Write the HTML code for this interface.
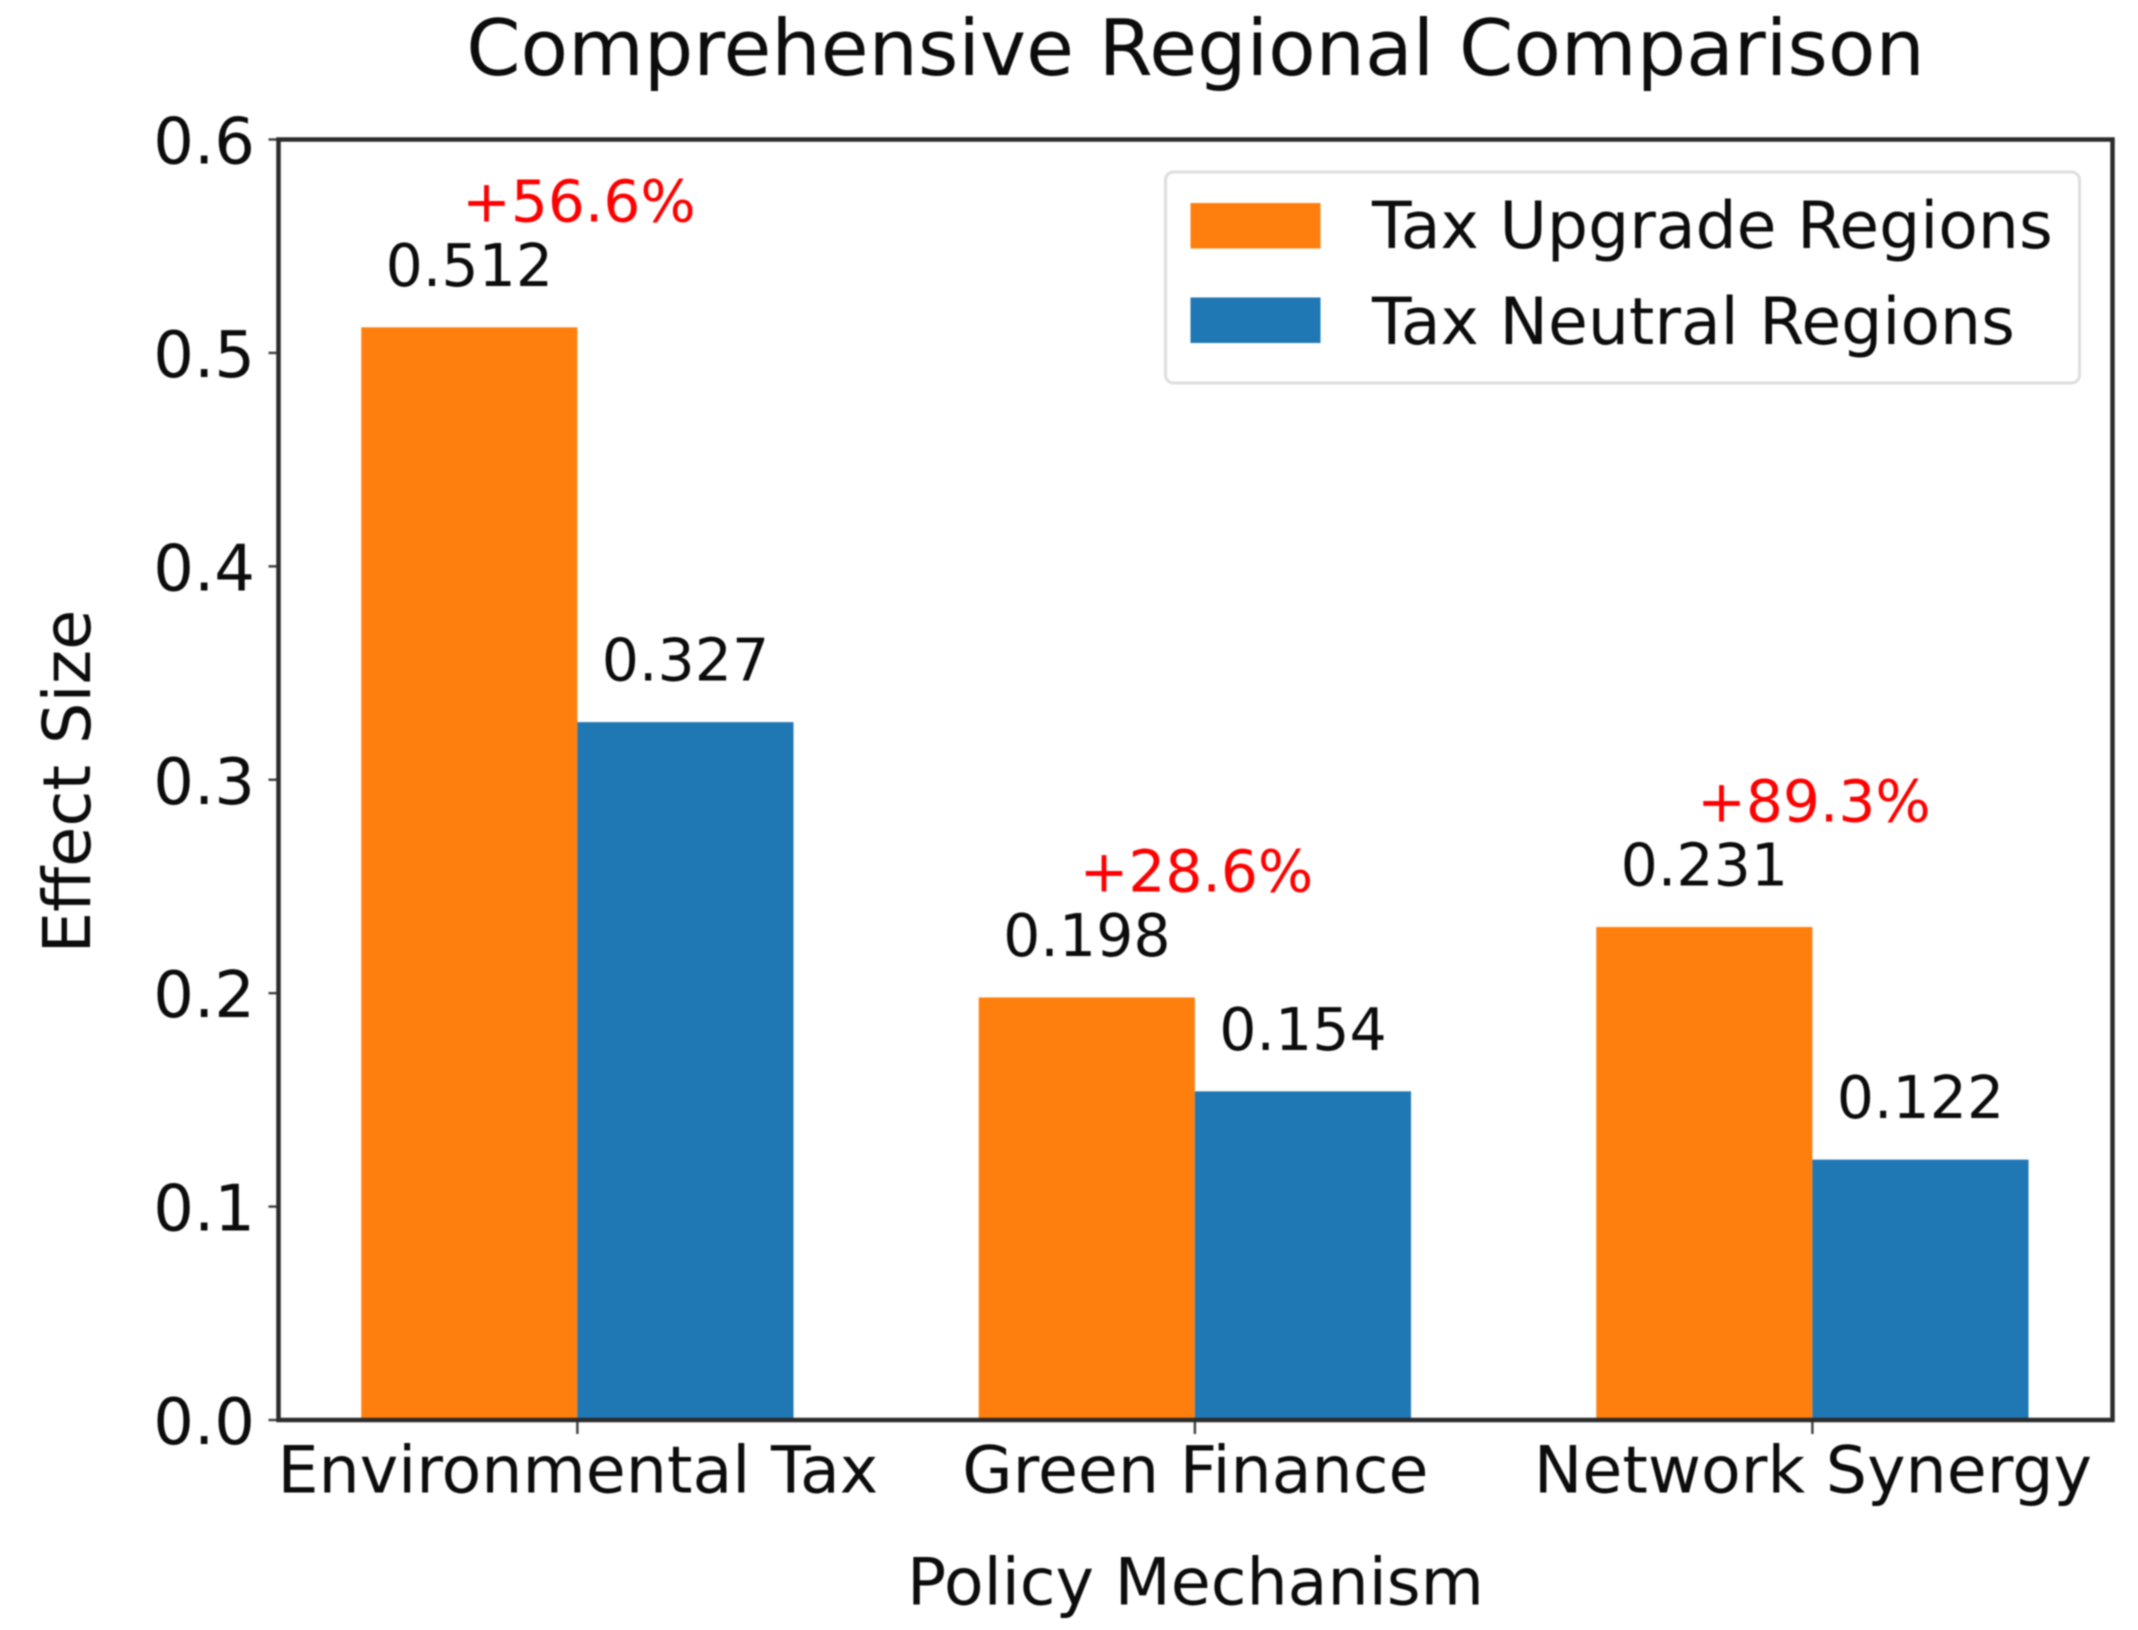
<!DOCTYPE html>
<html lang="en">
<head>
<meta charset="utf-8">
<title>Comprehensive Regional Comparison</title>
<style>
html,body{margin:0;padding:0;background:#fff;}
svg{display:block;filter:blur(0.8px);}
text{font-family:"DejaVu Sans","Liberation Sans",sans-serif;fill:#0c0c0c;}
</style>
</head>
<body>
<svg id="chart" xmlns="http://www.w3.org/2000/svg" width="2138" height="1630" viewBox="0 0 2138 1630"></svg>
<script>
const categories = ["Environmental Tax", "Green Finance", "Network Synergy"];
const upgradeValues = [0.512, 0.198, 0.231];
const neutralValues = [0.327, 0.154, 0.122];
const percentLabels = ["+56.6%", "+28.6%", "+89.3%"];
const yTicks = [0, 0.1, 0.2, 0.3, 0.4, 0.5, 0.6];
const seriesNames = ["Tax Upgrade Regions", "Tax Neutral Regions"];

const NS = "http://www.w3.org/2000/svg";
const svg = document.getElementById("chart");
const plot = {left: 278.5, right: 2112.5, top: 139.5, bottom: 1420};
const xDomain = [-0.484, 2.486];
const yDomain = [0, 0.6];
const barWidth = 0.35;
const ORANGE = "#ff7f0e";
const BLUE = "#1f77b4";

function xScale(v) {
  return plot.left + (v - xDomain[0]) / (xDomain[1] - xDomain[0]) * (plot.right - plot.left);
}
function yScale(v) {
  return plot.bottom - (v - yDomain[0]) / (yDomain[1] - yDomain[0]) * (plot.bottom - plot.top);
}
function make(tag, attrs, text) {
  const el = document.createElementNS(NS, tag);
  for (const k in attrs) el.setAttribute(k, attrs[k]);
  if (text !== undefined) el.textContent = text;
  svg.appendChild(el);
  return el;
}

// Bars and their labels
categories.forEach(function (cat, i) {
  const upX0 = xScale(i - barWidth);
  const midX = xScale(i);
  const neuX1 = xScale(i + barWidth);
  const upTop = yScale(upgradeValues[i]);
  const neuTop = yScale(neutralValues[i]);

  const barA = make("rect", {x: upX0, y: upTop, width: midX - upX0, height: plot.bottom - upTop, fill: ORANGE});
  
  

  const barB = make("rect", {x: midX, y: neuTop, width: neuX1 - midX, height: plot.bottom - neuTop, fill: BLUE});
  
  

  const labA = make("text", {x: (upX0 + midX) / 2, y: upTop - 41.5, "text-anchor": "middle", "font-size": 58.5}, upgradeValues[i].toFixed(3));
  
  

  const labB = make("text", {x: (midX + neuX1) / 2, y: neuTop - 41.5, "text-anchor": "middle", "font-size": 58.5}, neutralValues[i].toFixed(3));
  
  

  const pct = make("text", {x: midX + 1.5, y: yScale(Math.max(upgradeValues[i], neutralValues[i]) + 0.05) + 1, "text-anchor": "middle", "font-size": 58.2, style: "fill:#ff0000"}, percentLabels[i]);
  
  

  const tick = make("line", {x1: midX, x2: midX, y1: plot.bottom, y2: plot.bottom + 14, stroke: "#444", "stroke-width": 2.5});
  
  

  const tickLabel = make("text", {x: midX + 0.5, y: 1492.5, "text-anchor": "middle", "font-size": 65}, cat);
  
  
});

// Y axis ticks
yTicks.forEach(function (t) {
  const y = yScale(t);
  const tick = make("line", {x1: plot.left - 10, x2: plot.left, y1: y, y2: y, stroke: "#444", "stroke-width": 2.5});
  
  

  const label = make("text", {x: 255, y: y + 24, "text-anchor": "end", "font-size": 64}, t.toFixed(1));
  
  
});

// Plot frame
const frame = make("rect", {x: plot.left, y: plot.top, width: plot.right - plot.left, height: plot.bottom - plot.top, fill: "none", stroke: "#2b2b2b", "stroke-width": 4.5});



// Legend
const legendBox = make("rect", {x: 1165.5, y: 172, width: 914, height: 211, rx: 8, ry: 8, fill: "#fff", stroke: "#dedede", "stroke-width": 3});



const swatchA = make("rect", {x: 1190.5, y: 203, width: 130, height: 45.5, fill: ORANGE});



const swatchB = make("rect", {x: 1190.5, y: 297.5, width: 130, height: 45.5, fill: BLUE});



const legendA = make("text", {x: 1372, y: 248, "font-size": 64.8}, seriesNames[0]);



const legendB = make("text", {x: 1372, y: 344, "font-size": 64.8}, seriesNames[1]);



// Titles
const title = make("text", {x: 1195.5, y: 75, "text-anchor": "middle", "font-size": 77.8}, "Comprehensive Regional Comparison");



const xTitle = make("text", {x: 1195.5, y: 1604.5, "text-anchor": "middle", "font-size": 65}, "Policy Mechanism");



const yTitle = make("text", {x: 0, y: 0, "text-anchor": "middle", "font-size": 65.5, transform: "translate(90 781.5) rotate(-90)"}, "Effect Size");


</script>
</body>
</html>
